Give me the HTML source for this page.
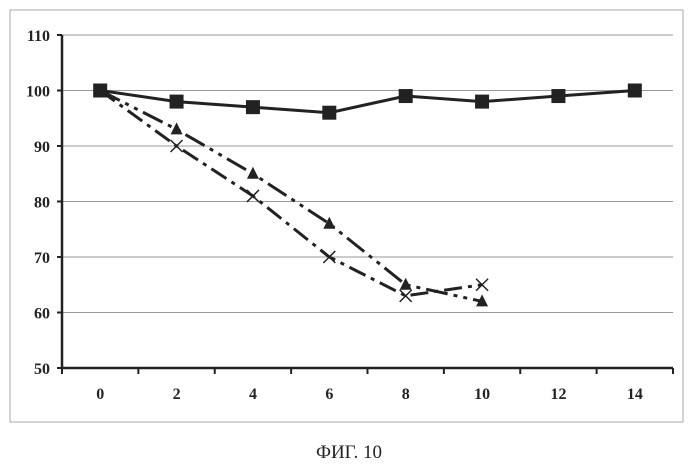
<!DOCTYPE html>
<html><head><meta charset="utf-8"><style>
body{margin:0;background:#fff;width:699px;height:470px;overflow:hidden}
svg{font-family:"Liberation Serif",serif}
</style></head><body>
<svg width="699" height="470">
<rect x="10" y="10" width="673" height="412" fill="none" stroke="#aaa"/>
<g id="grid"></g><g id="axes"></g><g id="series"></g>
<text x="349" y="458" text-anchor="middle" font-size="19" fill="#222">ФИГ. 10</text>
</svg>
<script>
const categories=[0,2,4,6,8,10,12,14];
const yTicks=[50,60,70,80,90,100,110];
const squareSeries=[100,98,97,96,99,98,99,100];
const triangleSeries=[100,93,85,76,65,62];
const crossSeries=[100,90,81,70,63,65];
const L=62,R=673,T=35,B=368,ymin=50,ymax=110;
const step=(R-L)/categories.length;
const xs=i=>L+step*(i+0.5);
const ys=v=>B-(v-ymin)/(ymax-ymin)*(B-T);
const NS="http://www.w3.org/2000/svg";
function mk(tag,attrs,parent){const e=document.createElementNS(NS,tag);for(const k in attrs)e.setAttribute(k,attrs[k]);document.getElementById(parent).appendChild(e);return e;}
yTicks.forEach(v=>{
 if(v>ymin){const g=mk('line',{x1:L,x2:R,y1:ys(v),y2:ys(v),stroke:'#999','stroke-width':1},'grid');
 
 }
 const tk=mk('line',{x1:L-5,x2:L,y1:ys(v),y2:ys(v),stroke:'#222','stroke-width':2},'axes');
 
 
 const t=mk('text',{x:L-12,y:ys(v)+6,'text-anchor':'end','font-size':16,'font-weight':'bold',fill:'#222'},'axes');
 t.textContent=v;
 
 
});
const ya=mk('line',{x1:L,x2:L,y1:T,y2:B,stroke:'#222','stroke-width':2.5},'axes');


const xa=mk('line',{x1:L,x2:R,y1:B,y2:B,stroke:'#222','stroke-width':2.5},'axes');


for(let i=0;i<=categories.length;i++){const tk=mk('line',{x1:L+step*i,x2:L+step*i,y1:B,y2:B+6,stroke:'#222','stroke-width':2},'axes');
 
 }
categories.forEach((c,i)=>{const t=mk('text',{x:xs(i),y:B+31,'text-anchor':'middle','font-size':16,'font-weight':'bold',fill:'#222'},'axes');
 t.textContent=c;
 
 });
function line(data,dash,name){const p=mk('polyline',{points:data.map((v,i)=>xs(i)+','+ys(v)).join(' '),fill:'none',stroke:'#222','stroke-width':3,'stroke-dasharray':dash},'series');
 
 }
line(squareSeries,'none','series-square-line');
line(triangleSeries,'22 6 4 6 4 6','series-triangle-line');
line(crossSeries,'18 6 4 6','series-cross-line');
squareSeries.forEach((v,i)=>{const r=mk('rect',{x:xs(i)-7,y:ys(v)-7,width:14,height:14,fill:'#222'},'series');
 
 });
triangleSeries.forEach((v,i)=>{const x=xs(i),y=ys(v);const p=mk('polygon',{points:`${x-6},${y+5} ${x+6},${y+5} ${x},${y-7}`,fill:'#222'},'series');
 
 });
crossSeries.forEach((v,i)=>{const x=xs(i),y=ys(v);const p=mk('path',{d:`M${x-6},${y-6}L${x+6},${y+6}M${x+6},${y-6}L${x-6},${y+6}`,stroke:'#222','stroke-width':1.5},'series');
 
 });
</script>
</body></html>
